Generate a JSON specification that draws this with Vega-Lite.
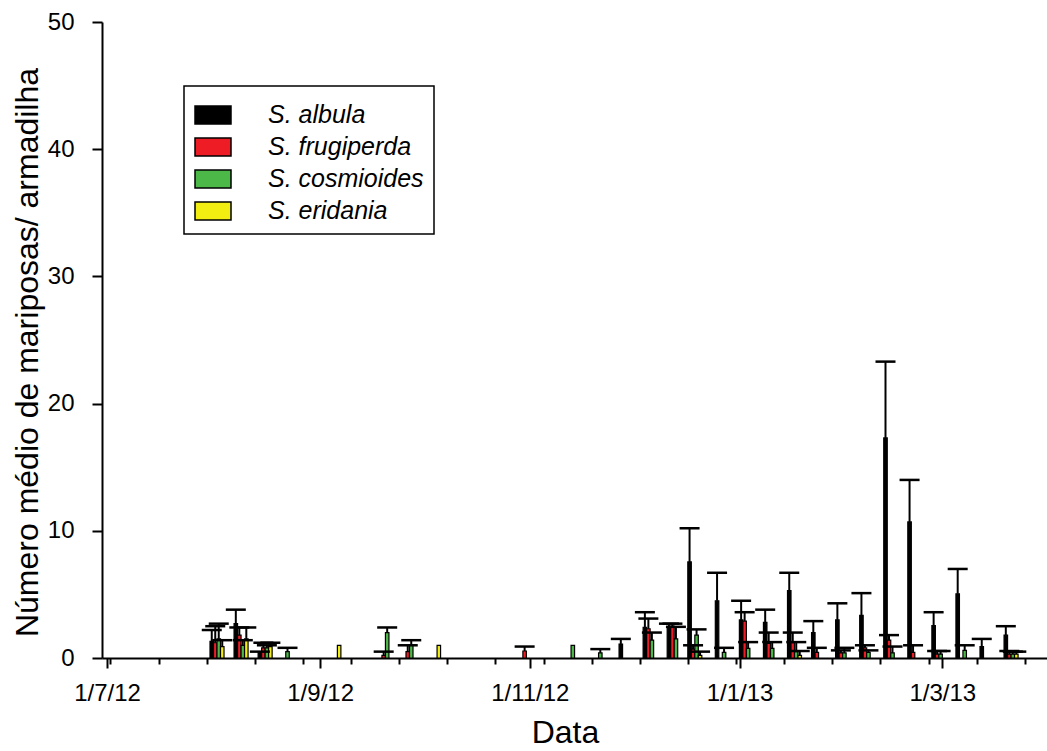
{
  "$schema": "https://vega.github.io/schema/vega-lite/v6.json",
  "width": 945,
  "height": 636,
  "autosize": {"type": "none"},
  "padding": {"left": 102, "top": 22, "right": 0, "bottom": 93},
  "background": "white",
  "config": {
    "view": {"stroke": null},
    "font": "Liberation Sans",
    "axis": {
      "domainColor": "black", "domainWidth": 2, "tickColor": "black", "tickWidth": 2,
      "labelColor": "black", "titleColor": "black", "labelFont": "Liberation Sans", "titleFont": "Liberation Sans",
      "labelFontSize": 24, "titleFontSize": 32, "titleFontWeight": "normal", "grid": false
    },
    "legend": {"strokeWidth": 1.5}
  },
  "datasets": {
    "moths": [
      {"date": "2012-08-02", "species": "S. albula", "mean": 1.3, "upper": 2.2},
      {"date": "2012-08-02", "species": "S. frugiperda", "mean": 1.2, "upper": 2.5},
      {"date": "2012-08-02", "species": "S. cosmioides", "mean": 1.5, "upper": 2.7},
      {"date": "2012-08-02", "species": "S. eridania", "mean": 0.9, "upper": 1.4},
      {"date": "2012-08-09", "species": "S. albula", "mean": 2.7, "upper": 3.8},
      {"date": "2012-08-09", "species": "S. frugiperda", "mean": 1.8, "upper": 2.4},
      {"date": "2012-08-09", "species": "S. cosmioides", "mean": 1.0, "upper": 1.4},
      {"date": "2012-08-09", "species": "S. eridania", "mean": 1.5, "upper": 2.4},
      {"date": "2012-08-16", "species": "S. albula", "mean": 0.4, "upper": 0.5},
      {"date": "2012-08-16", "species": "S. frugiperda", "mean": 0.8, "upper": 1.2},
      {"date": "2012-08-16", "species": "S. cosmioides", "mean": 0.8, "upper": 1.0},
      {"date": "2012-08-16", "species": "S. eridania", "mean": 0.9, "upper": 1.2},
      {"date": "2012-08-22", "species": "S. cosmioides", "mean": 0.5, "upper": 0.8},
      {"date": "2012-09-05", "species": "S. eridania", "mean": 1.0, "upper": 1.0},
      {"date": "2012-09-20", "species": "S. frugiperda", "mean": 0.2, "upper": 0.5},
      {"date": "2012-09-20", "species": "S. cosmioides", "mean": 2.0, "upper": 2.4},
      {"date": "2012-09-27", "species": "S. frugiperda", "mean": 0.5, "upper": 1.0},
      {"date": "2012-09-27", "species": "S. cosmioides", "mean": 1.0, "upper": 1.4},
      {"date": "2012-10-04", "species": "S. eridania", "mean": 1.0, "upper": 1.0},
      {"date": "2012-10-31", "species": "S. frugiperda", "mean": 0.55, "upper": 0.9},
      {"date": "2012-11-13", "species": "S. cosmioides", "mean": 1.0, "upper": 1.0},
      {"date": "2012-11-21", "species": "S. cosmioides", "mean": 0.4, "upper": 0.7},
      {"date": "2012-11-29", "species": "S. albula", "mean": 1.1, "upper": 1.5},
      {"date": "2012-12-06", "species": "S. albula", "mean": 2.4, "upper": 3.6},
      {"date": "2012-12-06", "species": "S. frugiperda", "mean": 2.3, "upper": 3.1},
      {"date": "2012-12-06", "species": "S. cosmioides", "mean": 1.4, "upper": 2.0},
      {"date": "2012-12-13", "species": "S. albula", "mean": 2.45, "upper": 2.7},
      {"date": "2012-12-13", "species": "S. frugiperda", "mean": 2.5, "upper": 2.7},
      {"date": "2012-12-13", "species": "S. cosmioides", "mean": 1.5, "upper": 2.45},
      {"date": "2012-12-19", "species": "S. albula", "mean": 7.55, "upper": 10.2},
      {"date": "2012-12-19", "species": "S. frugiperda", "mean": 0.7, "upper": 1.0},
      {"date": "2012-12-19", "species": "S. cosmioides", "mean": 1.8, "upper": 2.25},
      {"date": "2012-12-19", "species": "S. eridania", "mean": 0.2, "upper": 0.5},
      {"date": "2012-12-27", "species": "S. albula", "mean": 4.5, "upper": 6.7},
      {"date": "2012-12-27", "species": "S. cosmioides", "mean": 0.45, "upper": 0.8},
      {"date": "2013-01-03", "species": "S. albula", "mean": 3.0, "upper": 4.5},
      {"date": "2013-01-03", "species": "S. frugiperda", "mean": 2.9, "upper": 3.6},
      {"date": "2013-01-03", "species": "S. cosmioides", "mean": 0.75, "upper": 1.25},
      {"date": "2013-01-10", "species": "S. albula", "mean": 2.8, "upper": 3.8},
      {"date": "2013-01-10", "species": "S. frugiperda", "mean": 1.15, "upper": 2.0},
      {"date": "2013-01-10", "species": "S. cosmioides", "mean": 0.75, "upper": 1.25},
      {"date": "2013-01-17", "species": "S. albula", "mean": 5.3, "upper": 6.7},
      {"date": "2013-01-17", "species": "S. frugiperda", "mean": 1.2, "upper": 2.0},
      {"date": "2013-01-17", "species": "S. cosmioides", "mean": 0.5, "upper": 1.25},
      {"date": "2013-01-17", "species": "S. eridania", "mean": 0.2, "upper": 0.55},
      {"date": "2013-01-24", "species": "S. albula", "mean": 2.0, "upper": 2.9},
      {"date": "2013-01-24", "species": "S. frugiperda", "mean": 0.45, "upper": 0.8},
      {"date": "2013-01-31", "species": "S. albula", "mean": 3.0, "upper": 4.3},
      {"date": "2013-01-31", "species": "S. frugiperda", "mean": 0.4, "upper": 0.6},
      {"date": "2013-01-31", "species": "S. cosmioides", "mean": 0.4, "upper": 0.8},
      {"date": "2013-02-07", "species": "S. albula", "mean": 3.35, "upper": 5.1},
      {"date": "2013-02-07", "species": "S. frugiperda", "mean": 0.8, "upper": 1.0},
      {"date": "2013-02-07", "species": "S. cosmioides", "mean": 0.45, "upper": 0.6},
      {"date": "2013-02-14", "species": "S. albula", "mean": 17.3, "upper": 23.3},
      {"date": "2013-02-14", "species": "S. frugiperda", "mean": 1.4, "upper": 1.8},
      {"date": "2013-02-14", "species": "S. cosmioides", "mean": 0.4, "upper": 0.9},
      {"date": "2013-02-21", "species": "S. albula", "mean": 10.7, "upper": 14.0},
      {"date": "2013-02-21", "species": "S. frugiperda", "mean": 0.45, "upper": 1.0},
      {"date": "2013-02-28", "species": "S. albula", "mean": 2.55, "upper": 3.6},
      {"date": "2013-02-28", "species": "S. frugiperda", "mean": 0.3, "upper": 0.55},
      {"date": "2013-02-28", "species": "S. cosmioides", "mean": 0.3, "upper": 0.55},
      {"date": "2013-03-07", "species": "S. albula", "mean": 5.05, "upper": 7.0},
      {"date": "2013-03-07", "species": "S. cosmioides", "mean": 0.6, "upper": 1.0},
      {"date": "2013-03-14", "species": "S. albula", "mean": 0.9, "upper": 1.5},
      {"date": "2013-03-21", "species": "S. albula", "mean": 1.8, "upper": 2.5},
      {"date": "2013-03-21", "species": "S. frugiperda", "mean": 0.3, "upper": 0.55},
      {"date": "2013-03-21", "species": "S. cosmioides", "mean": 0.3, "upper": 0.5},
      {"date": "2013-03-21", "species": "S. eridania", "mean": 0.3, "upper": 0.5}
    ],
    "minor": [{"d": "2012-07-02"}]
  },
  "layer": [
    {
      "data": {"name": "moths"},
      "encoding": {
        "x": {
          "field": "date", "type": "temporal",
          "scale": {"type": "utc", "domain": [{"year": 2012, "month": 7, "date": 1, "utc": true}, {"year": 2013, "month": 3, "date": 30, "utc": true}]},
          "axis": {
            "orient": "bottom", "title": "Data", "format": "%-d/%-m/%y",
            "values": [
              {"year": 2012, "month": 7, "date": 1, "utc": true},
              {"year": 2012, "month": 9, "date": 1, "utc": true},
              {"year": 2012, "month": 11, "date": 1, "utc": true},
              {"year": 2013, "month": 1, "date": 1, "utc": true},
              {"year": 2013, "month": 3, "date": 1, "utc": true}
            ],
            "tickSize": 10, "labelPadding": 32, "labelBaseline": "alphabetic", "labelFlush": false, "labelOverlap": false,
            "titleX": 463, "titleY": 84, "titleBaseline": "alphabetic", "titleAnchor": null
          }
        },
        "y": {
          "field": "mean", "type": "quantitative",
          "scale": {"domain": [0, 50], "nice": false},
          "axis": {"title": "Número médio de mariposas/ armadilha", "values": [0, 10, 20, 30, 40, 50], "tickSize": 10, "labelPadding": 18, "titleX": -65, "titleY": 330, "titleBaseline": "alphabetic", "titleAngle": -90}
        }
      },
      "layer": [
        {"transform": [{"filter": "datum.species === 'S. albula'"}], "mark": {"type": "bar", "width": 3.5, "xOffset": -5.25, "stroke": "black", "strokeWidth": 1.2},
         "encoding": {"color": {"field": "species", "type": "nominal", "scale": {"domain": ["S. albula", "S. frugiperda", "S. cosmioides", "S. eridania"], "range": ["#000000", "#ee1c24", "#4cb848", "#f2ee12"]},
           "legend": {"orient": "none", "legendX": 82, "legendY": 64, "title": null, "symbolType": "M-1,-0.5H1V0.5H-1Z", "symbolSize": 1296, "symbolStrokeColor": "black", "symbolStrokeWidth": 1.5, "symbolOpacity": 1, "labelFont": "Liberation Sans", "labelFontSize": 25, "labelFontStyle": "italic", "labelColor": "black", "labelOffset": 36, "rowPadding": -2, "padding": 10, "strokeColor": "black", "fillColor": "white"}}}},
        {"transform": [{"filter": "datum.species === 'S. frugiperda'"}], "mark": {"type": "bar", "width": 3.5, "xOffset": -1.75, "stroke": "black", "strokeWidth": 1.2},
         "encoding": {"color": {"field": "species", "type": "nominal", "scale": {"domain": ["S. albula", "S. frugiperda", "S. cosmioides", "S. eridania"], "range": ["#000000", "#ee1c24", "#4cb848", "#f2ee12"]}}}},
        {"transform": [{"filter": "datum.species === 'S. cosmioides'"}], "mark": {"type": "bar", "width": 3.5, "xOffset": 1.75, "stroke": "black", "strokeWidth": 1.2},
         "encoding": {"color": {"field": "species", "type": "nominal", "scale": {"domain": ["S. albula", "S. frugiperda", "S. cosmioides", "S. eridania"], "range": ["#000000", "#ee1c24", "#4cb848", "#f2ee12"]}}}},
        {"transform": [{"filter": "datum.species === 'S. eridania'"}], "mark": {"type": "bar", "width": 3.5, "xOffset": 5.25, "stroke": "black", "strokeWidth": 1.2},
         "encoding": {"color": {"field": "species", "type": "nominal", "scale": {"domain": ["S. albula", "S. frugiperda", "S. cosmioides", "S. eridania"], "range": ["#000000", "#ee1c24", "#4cb848", "#f2ee12"]}}}},

        {"transform": [{"filter": "datum.species === 'S. albula' && datum.upper > datum.mean"}], "mark": {"type": "rule", "xOffset": -5.25, "color": "black", "strokeWidth": 2}, "encoding": {"y2": {"field": "upper"}}},
        {"transform": [{"filter": "datum.species === 'S. albula' && datum.upper > datum.mean"}], "mark": {"type": "tick", "orient": "horizontal", "size": 20, "thickness": 2.5, "xOffset": -5.25, "color": "black", "opacity": 1},
         "encoding": {"y": {"field": "upper", "type": "quantitative", "scale": {"domain": [0, 50], "nice": false}, "axis": {"title": "Número médio de mariposas/ armadilha", "values": [0, 10, 20, 30, 40, 50], "tickSize": 10, "labelPadding": 18, "titleX": -65, "titleY": 330, "titleBaseline": "alphabetic", "titleAngle": -90}}}},
        {"transform": [{"filter": "datum.species === 'S. frugiperda' && datum.upper > datum.mean"}], "mark": {"type": "rule", "xOffset": -1.75, "color": "black", "strokeWidth": 2}, "encoding": {"y2": {"field": "upper"}}},
        {"transform": [{"filter": "datum.species === 'S. frugiperda' && datum.upper > datum.mean"}], "mark": {"type": "tick", "orient": "horizontal", "size": 20, "thickness": 2.5, "xOffset": -1.75, "color": "black", "opacity": 1},
         "encoding": {"y": {"field": "upper", "type": "quantitative", "scale": {"domain": [0, 50], "nice": false}, "axis": {"title": "Número médio de mariposas/ armadilha", "values": [0, 10, 20, 30, 40, 50], "tickSize": 10, "labelPadding": 18, "titleX": -65, "titleY": 330, "titleBaseline": "alphabetic", "titleAngle": -90}}}},
        {"transform": [{"filter": "datum.species === 'S. cosmioides' && datum.upper > datum.mean"}], "mark": {"type": "rule", "xOffset": 1.75, "color": "black", "strokeWidth": 2}, "encoding": {"y2": {"field": "upper"}}},
        {"transform": [{"filter": "datum.species === 'S. cosmioides' && datum.upper > datum.mean"}], "mark": {"type": "tick", "orient": "horizontal", "size": 20, "thickness": 2.5, "xOffset": 1.75, "color": "black", "opacity": 1},
         "encoding": {"y": {"field": "upper", "type": "quantitative", "scale": {"domain": [0, 50], "nice": false}, "axis": {"title": "Número médio de mariposas/ armadilha", "values": [0, 10, 20, 30, 40, 50], "tickSize": 10, "labelPadding": 18, "titleX": -65, "titleY": 330, "titleBaseline": "alphabetic", "titleAngle": -90}}}},
        {"transform": [{"filter": "datum.species === 'S. eridania' && datum.upper > datum.mean"}], "mark": {"type": "rule", "xOffset": 5.25, "color": "black", "strokeWidth": 2}, "encoding": {"y2": {"field": "upper"}}},
        {"transform": [{"filter": "datum.species === 'S. eridania' && datum.upper > datum.mean"}], "mark": {"type": "tick", "orient": "horizontal", "size": 20, "thickness": 2.5, "xOffset": 5.25, "color": "black", "opacity": 1},
         "encoding": {"y": {"field": "upper", "type": "quantitative", "scale": {"domain": [0, 50], "nice": false}, "axis": {"title": "Número médio de mariposas/ armadilha", "values": [0, 10, 20, 30, 40, 50], "tickSize": 10, "labelPadding": 18, "titleX": -65, "titleY": 330, "titleBaseline": "alphabetic", "titleAngle": -90}}}}
      ]
    },
    {
      "data": {"name": "minor"},
      "mark": {"type": "rule", "opacity": 0},
      "encoding": {
        "x": {
          "field": "d", "type": "temporal",
          "scale": {"type": "utc", "domain": [{"year": 2012, "month": 7, "date": 1, "utc": true}, {"year": 2013, "month": 3, "date": 30, "utc": true}]},
          "axis": {
            "orient": "bottom", "title": null, "labels": false, "domain": false, "tickSize": 6, "tickWidth": 2,
            "values": [
              {"year": 2012, "month": 7, "date": 2, "utc": true},
              {"year": 2012, "month": 7, "date": 16, "utc": true},
              {"year": 2012, "month": 7, "date": 30, "utc": true},
              {"year": 2012, "month": 8, "date": 13, "utc": true},
              {"year": 2012, "month": 8, "date": 27, "utc": true},
              {"year": 2012, "month": 9, "date": 10, "utc": true},
              {"year": 2012, "month": 9, "date": 24, "utc": true},
              {"year": 2012, "month": 10, "date": 8, "utc": true},
              {"year": 2012, "month": 10, "date": 22, "utc": true},
              {"year": 2012, "month": 11, "date": 5, "utc": true},
              {"year": 2012, "month": 11, "date": 19, "utc": true},
              {"year": 2012, "month": 12, "date": 3, "utc": true},
              {"year": 2012, "month": 12, "date": 17, "utc": true},
              {"year": 2012, "month": 12, "date": 31, "utc": true},
              {"year": 2013, "month": 1, "date": 14, "utc": true},
              {"year": 2013, "month": 1, "date": 28, "utc": true},
              {"year": 2013, "month": 2, "date": 11, "utc": true},
              {"year": 2013, "month": 2, "date": 25, "utc": true},
              {"year": 2013, "month": 3, "date": 11, "utc": true},
              {"year": 2013, "month": 3, "date": 25, "utc": true}
            ]
          }
        }
      }
    }
  ],
  "resolve": {"axis": {"x": "independent"}}
}
